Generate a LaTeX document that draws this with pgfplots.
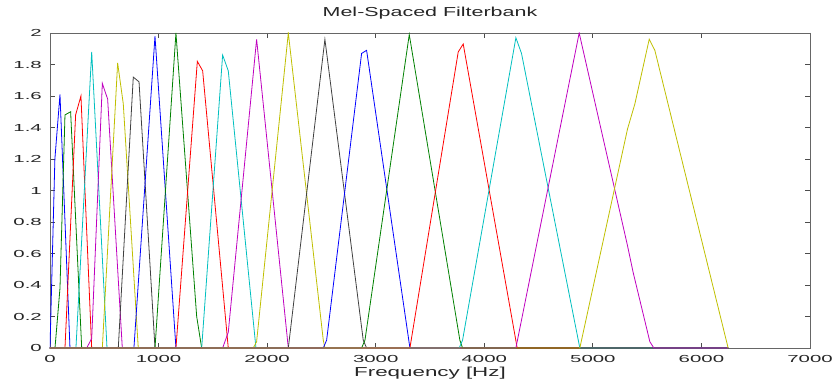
\documentclass[border=0pt]{standalone}
\usepackage{fontspec}
\setmainfont{Liberation Sans}
\newfontfamily\tickfont[FakeStretch=2.0]{Liberation Sans}
\newfontfamily\titlefont[FakeStretch=1.65]{Liberation Sans}
\newfontfamily\labelfont[FakeStretch=1.72]{Liberation Sans}
\usepackage{pgfplots}
\pgfplotsset{compat=1.18}
\definecolor{mb}{rgb}{0,0,1}
\definecolor{mg}{rgb}{0,0.5,0}
\definecolor{mr}{rgb}{1,0,0}
\definecolor{mc}{rgb}{0,0.75,0.75}
\definecolor{mm}{rgb}{0.75,0,0.75}
\definecolor{my}{rgb}{0.75,0.75,0}
\definecolor{mk}{rgb}{0.25,0.25,0.25}
\begin{document}
\begin{tikzpicture}
\begin{axis}[
  scale only axis, width=760pt, height=315pt,
  xmin=0, xmax=7000, ymin=0, ymax=2,
  xtick={0,1000,2000,3000,4000,5000,6000,7000},
  ytick={0,0.2,0.4,0.6,0.8,1,1.2,1.4,1.6,1.8,2},
  yticklabels={0,0.2,0.4,0.6,0.8,1,1.2,1.4,1.6,1.8,2},
  tick align=inside, major tick length=5pt,
  axis line style={line width=0.8pt, black!60},
  tick style={line width=0.8pt, black!70},
  ticklabel style={font=\tickfont\fontsize{10.2}{12}\selectfont, text=black!85},
  /pgf/number format/assume math mode=true,
  /pgf/number format/1000 sep={},
  scaled ticks=false,
  xticklabel style={anchor=base, yshift=-14.7pt},
  yticklabel style={anchor=east, inner sep=0pt, xshift=-8pt},
  title={Mel-Spaced Filterbank},
  title style={font=\titlefont\fontsize{13}{15}\selectfont, text=black!85, at={(axis description cs:0.5,1)}, anchor=base, yshift=10.5pt},
  xlabel={Frequency [Hz]},
  xlabel style={font=\labelfont\fontsize{13}{15}\selectfont, text=black!85, at={(axis description cs:0.5,0)}, anchor=base, yshift=-28.6pt},
  every axis plot/.append style={line width=0.8pt},
]
% 1 blue
\addplot[mb] coordinates {(0,0) (45,1.2) (92,1.61) (184,0) (6246,0)};
% 2 green
\addplot[mg] coordinates {(0,0) (46,0) (92,0.38) (138,1.48) (190,1.5) (292,0) (6246,0)};
% 3 red
\addplot[mr] coordinates {(0,0) (138,0) (236,1.48) (285,1.6) (384,0) (6246,0)};
% 4 cyan
\addplot[mc] coordinates {(0,0) (239,0) (384,1.88) (525,0) (6246,0)};
% 5 magenta
\addplot[mm] coordinates {(0,0) (338,0) (384,0.06) (482,1.68) (531,1.58) (666,0) (6246,0)};
% 6 yellow
\addplot[my] coordinates {(0,0) (482,0) (623,1.81) (675,1.55) (813,0) (6246,0)};
% 7 black
\addplot[mk] coordinates {(0,0) (629,0) (767,1.72) (820,1.69) (967,0) (6246,0)};
% 8 blue
\addplot[mb] coordinates {(0,0) (773,0) (967,1.98) (1160,0) (6246,0)};
% 9 green
\addplot[mg] coordinates {(0,0) (967,0) (1160,2.0) (1351,0.2) (1397,0) (6246,0)};
% 10 red
\addplot[mr] coordinates {(0,0) (1160,0) (1357,1.82) (1406,1.76) (1642,0) (6246,0)};
% 11 cyan
\addplot[mc] coordinates {(0,0) (1397,0) (1590,1.86) (1642,1.76) (1897,0) (6246,0)};
% 12 magenta
\addplot[mm] coordinates {(0,0) (1590,0) (1642,0.1) (1903,1.96) (2195,0) (6246,0)};
% 13 yellow
\addplot[my] coordinates {(0,0) (1872,0) (1903,0.04) (2195,2.0) (2517,0.05) (2532,0) (6246,0)};
% 14 black
\addplot[mk] coordinates {(0,0) (2195,0) (2532,1.96) (2885,0.05) (2916,0) (6246,0)};
% 15 blue
\addplot[mb] coordinates {(0,0) (2517,0) (2548,0.05) (2870,1.87) (2916,1.89) (3315,0) (6246,0)};
% 16 green
\addplot[mg] coordinates {(0,0) (2870,0) (2901,0.05) (3309,1.99) (3775,0.05) (3800,0) (6246,0)};
% 17 red
\addplot[mr] coordinates {(0,0) (3315,0) (3760,1.88) (3806,1.93) (4303,0) (6246,0)};
% 18 cyan
\addplot[mc] coordinates {(0,0) (3769,0) (3800,0.05) (4291,1.97) (4343,1.87) (4880,0) (6246,0)};
% 19 magenta
\addplot[mm] coordinates {(0,0) (4291,0) (4874,2.0) (5319,0.65) (5371,0.48) (5525,0.04) (5562,0) (6246,0)};
% 20 yellow
\addplot[my] coordinates {(0,0) (4880,0) (5319,1.39) (5387,1.55) (5519,1.96) (5571,1.89) (6246,0)};
\end{axis}
\pgfresetboundingbox
\useasboundingbox (-50pt,-32pt) rectangle (784pt,348pt);
\end{tikzpicture}
\end{document}
